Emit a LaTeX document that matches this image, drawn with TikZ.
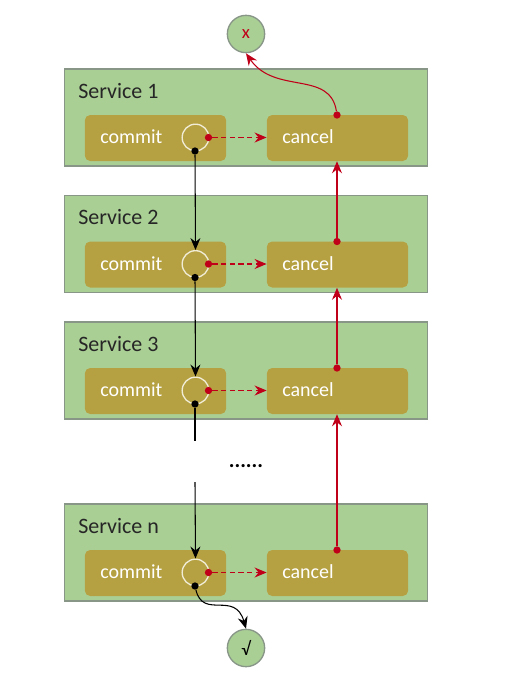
\documentclass[tikz,border=0pt]{standalone}
\usepackage{fontspec}
\setmainfont{Carlito}
\usetikzlibrary{arrows.meta}
\definecolor{boxgreen}{RGB}{170,207,149}
\definecolor{boxedge}{RGB}{136,150,136}
\definecolor{stepgold}{RGB}{182,161,66}
\definecolor{ringwhite}{RGB}{240,236,214}
\definecolor{undored}{RGB}{192,0,24}
\tikzset{
  service/.style={draw=boxedge, fill=boxgreen, line width=1.1pt, minimum width=272pt, minimum height=72.5pt, inner sep=0pt},
  stepbox/.style={fill=stepgold, rounded corners=4pt, minimum width=106pt, minimum height=34.5pt, inner sep=0pt},
  ring/.style={circle, draw=ringwhite, line width=1pt, minimum size=20pt, inner sep=0pt},
  dot/.style={circle, fill=#1, minimum size=5.5pt, inner sep=0pt},
  result/.style={circle, draw=boxedge, fill=boxgreen, line width=1pt, minimum size=28pt, inner sep=0pt, font=\fontsize{14}{14}\selectfont},
  title/.style={font=\fontsize{16.5}{18}\selectfont, text=black!85, anchor=west, inner sep=0pt},
  steptext/.style={font=\fontsize{15}{16}\selectfont, text=white, anchor=west, inner sep=0pt},
  flow/.style={-{Stealth[length=9pt, width=7.5pt, inset=3pt]}, line width=0.8pt},
}
\begin{document}
\begin{tikzpicture}[x=0.75pt, y=-0.75pt]
  \useasboundingbox (0,0) rectangle (510,679);
  % one green block per service, y is the top edge
  \foreach \s/\y/\t in {a/69/1, b/195.5/2, c/322/3, n/504/n} {
    \node[service] (svc\s) at (246,\y+48.5) {};
    \node[title] (name\s) at (78,\y+22) {Service \t};
    \node[stepbox] (commit\s) at (155.5,\y+69) {};
    \node[stepbox] (cancel\s) at (337.5,\y+69) {};
    \node[steptext] (ctext\s) at (100,\y+68) {commit};
    \node[steptext] (utext\s) at (282,\y+68) {cancel};
    \node[ring] (ring\s) at (195.5,\y+68.5) {};
    \node[dot=undored] (out\s) at (208.5,\y+68.5) {};
    \node[dot=black] (next\s) at (195,\y+82) {};
    \node[dot=undored] (back\s) at (337,\y+46) {};
    \draw[flow, undored, densely dashed, dash pattern=on 4pt off 2.5pt] (out\s) -- (cancel\s.west |- out\s);
  }
  \node[result, text=undored] (fail) at (246,34) {x};
  \node[result] (done) at (246,648) {√};
  \node[font=\fontsize{16}{16}\selectfont\bfseries] (gap) at (246,466) {......};
  \coordinate (stopc) at (195,441);
  \coordinate (startn) at (195,482);
  % commit chain going down
  \draw[flow] (nexta) -- (ringb.north);
  \draw[flow] (nextb) -- (ringc.north);
  \draw[line width=0.8pt] (nextc) -- (stopc);
  \draw[flow] (startn) -- (ringn.north);
  \draw[flow] (nextn) .. controls (203,620) and (235,590) .. (done.north);
  % cancel chain going up
  \draw[flow, undored] (backn) -- (back\string c |- cancelc.south);
  \draw[flow, undored] (backc) -- (backb |- cancelb.south);
  \draw[flow, undored] (backb) -- (backa |- cancela.south);
  \draw[flow, undored] (backa) .. controls (330,70) and (275,95) .. (fail.south);
\end{tikzpicture}
\end{document}
